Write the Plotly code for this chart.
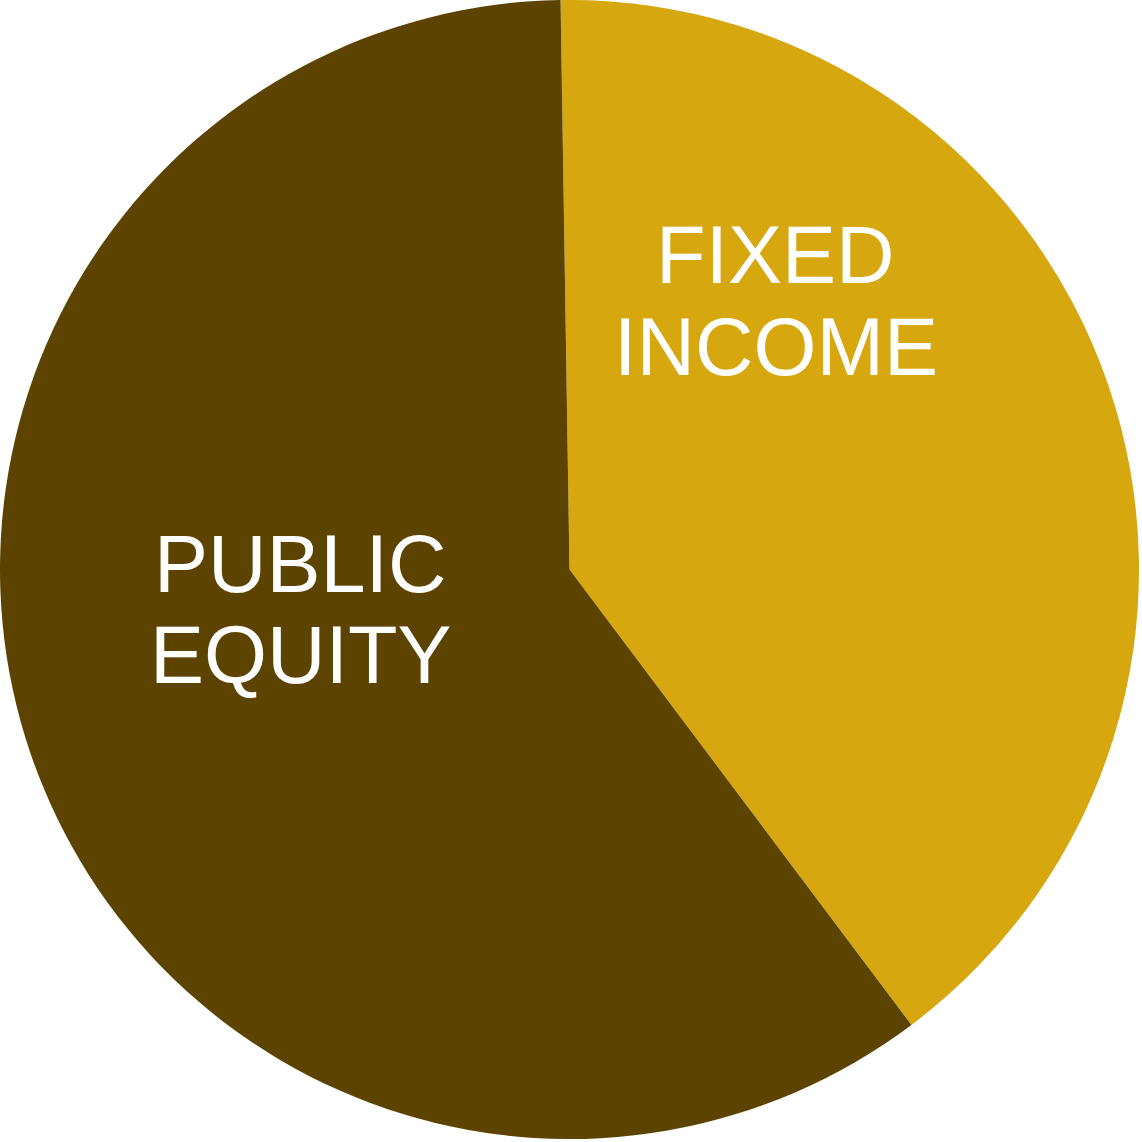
import plotly.graph_objects as go

labels = ['FIXED INCOME', 'PUBLIC EQUITY']
values = [40.0, 60.0]
colors = ['#D6A70F', '#5C4300']

# label lines and where they sit (pixel centres)
label_lines = ['FIXED', 'INCOME', 'PUBLIC', 'EQUITY']
label_x = [775, 776, 300, 301]
label_y = [255, 347, 564, 655]

W = H = 1139

fig = go.Figure(go.Pie(
    labels=labels,
    values=values,
    sort=False,
    direction='clockwise',
    rotation=-0.9,
    marker={'colors': colors, 'line': {'width': 0}},
    textinfo='none',
    hoverinfo='label+percent',
    showlegend=False,
))

for txt, x, y in zip(label_lines, label_x, label_y):
    fig.add_annotation(
        text=txt, x=x / W, y=1 - y / H, xref='paper', yref='paper',
        xanchor='center', yanchor='middle', showarrow=False,
        font={'family': 'Liberation Sans, Arial', 'size': 81, 'color': 'white'},
    )

fig.update_layout(
    width=W, height=H,
    margin={'l': 0, 'r': 0, 't': 0, 'b': 0},
    paper_bgcolor='white',
    plot_bgcolor='white',
)

# drop the default page margin so the chart sits at the top-left corner
fig.write_html("out.html", config={'displayModeBar': False},
               post_script="document.body.style.margin='0';")
